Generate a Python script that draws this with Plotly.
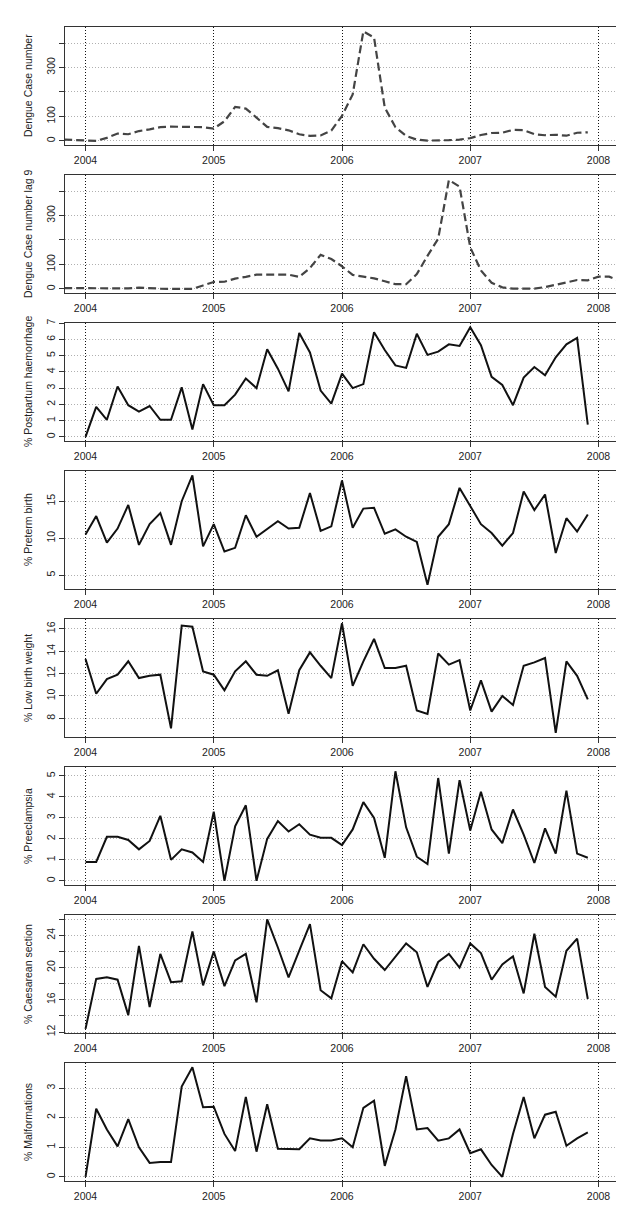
import plotly.graph_objects as go

# ---------------- data (monthly, month index 0 = Jan 2004) ----------------
dengue_start = -2          # first month index of the dengue series
dengue_cases = [5, 3, 1, 0, 12, 30, 27, 40, 47, 56, 58, 58, 58, 56,
                50, 80, 139, 132, 95, 57, 52, 43, 27, 20, 22, 42,
                102, 190, 448, 422, 136, 56, 20, 5, 1, 1, 3, 5,
                11, 24, 32, 33, 45, 44, 27, 23, 25, 21, 33, 35]

dengue_lag_start = -2
dengue_lag9 = [3, 3, 2, 1, 2, 2, 2, 5, 2, 1, 0, 0, 0, 14,
               28, 29, 42, 49, 58, 58, 58, 58, 49, 85, 139, 122,
               92, 57, 50, 43, 31, 19, 19, 60, 135, 205, 445, 418,
               170, 75, 25, 6, 1, 0, 1, 7, 17, 28, 36, 35, 50, 50, 33]

pph = [0.0, 1.85, 1.05, 3.1, 1.95, 1.55, 1.9, 1.05, 1.05, 3.05, 0.45, 3.25,
       1.95, 1.95, 2.6, 3.6, 3.0, 5.4, 4.2, 2.8, 6.4, 5.2, 2.85, 2.05,
       3.9, 3.0, 3.25, 6.45, 5.35, 4.4, 4.25, 6.35, 5.05, 5.25, 5.7, 5.6,
       6.75, 5.65, 3.7, 3.2, 1.95, 3.65, 4.3, 3.8, 4.9, 5.7, 6.1, 0.75]

preterm = [10.5, 13.0, 9.4, 11.3, 14.5, 9.1, 11.9, 13.4, 9.1, 15.0, 18.5, 8.9,
           11.9, 8.2, 8.7, 13.1, 10.2, 11.3, 12.3, 11.3, 11.4, 16.1, 11.0, 11.6,
           17.8, 11.4, 14.0, 14.1, 10.6, 11.2, 10.2, 9.5, 3.7, 10.2, 11.9, 16.8,
           14.4, 11.9, 10.7, 9.0, 10.7, 16.3, 13.8, 15.9, 8.0, 12.7, 10.9, 13.2]

lbw = [13.3, 10.2, 11.5, 11.9, 13.1, 11.6, 11.8, 11.9, 7.1, 16.3, 16.2, 12.2,
       11.9, 10.5, 12.2, 13.1, 11.9, 11.8, 12.3, 8.4, 12.3, 13.9, 12.7, 11.6,
       16.5, 10.9, 13.1, 15.1, 12.5, 12.5, 12.7, 8.7, 8.4, 13.8, 12.8, 13.2,
       8.7, 11.4, 8.6, 10.0, 9.2, 12.7, 13.0, 13.4, 6.7, 13.1, 11.8, 9.7]

preeclampsia = [0.9, 0.9, 2.1, 2.1, 1.95, 1.5, 1.9, 3.1, 1.0, 1.5, 1.35, 0.9,
                3.3, 0.0, 2.6, 3.6, 0.0, 2.0, 2.85, 2.35, 2.7, 2.2, 2.05, 2.05,
                1.7, 2.45, 3.75, 3.0, 1.1, 5.22, 2.55, 1.15, 0.8, 4.9, 1.3, 4.8,
                2.4, 4.25, 2.45, 1.8, 3.4, 2.2, 0.85, 2.5, 1.3, 4.3, 1.3, 1.1]

caesarean = [12.4, 18.6, 18.8, 18.5, 14.1, 22.7, 15.1, 21.7, 18.2, 18.3, 24.5, 17.8,
             22.0, 17.7, 20.9, 21.7, 15.7, 26.0, 22.5, 18.8, 22.1, 25.4, 17.2, 16.2,
             20.8, 19.4, 22.9, 21.1, 19.7, 21.3, 23.0, 21.9, 17.6, 20.7, 21.7, 20.0,
             23.0, 21.8, 18.5, 20.4, 21.4, 16.8, 24.2, 17.6, 16.4, 22.1, 23.6, 16.1]

malformations = [0.0, 2.3, 1.6, 1.03, 1.95, 1.0, 0.47, 0.5, 0.5, 3.05, 3.7, 2.35,
                 2.37, 1.45, 0.87, 2.7, 0.85, 2.45, 0.95, 0.93, 0.93, 1.3, 1.23, 1.23,
                 1.3, 1.0, 2.33, 2.57, 0.37, 1.6, 3.4, 1.6, 1.65, 1.22, 1.3, 1.6,
                 0.8, 0.93, 0.4, 0.0, 1.45, 2.7, 1.3, 2.1, 2.2, 1.05, 1.3, 1.5]

x_ticks = [2004, 2005, 2006, 2007, 2008]
x_tick_labels = ["2004", "2005", "2006", "2007", "2008"]

titles = ["Dengue Case number", "Dengue Case number lag 9",
          "% Postpartum haemorrhage", "% Preterm birth", "% Low birth weight",
          "% Preeclampsia", "% Caesarean section", "% Malformations"]

y_grid = [
    [0, 100, 200, 300, 400],
    [0, 100, 200, 300, 400],
    [0, 1, 2, 3, 4, 5, 6, 7],
    [5, 10, 15],
    [8, 10, 12, 14, 16],
    [0, 1, 2, 3, 4, 5],
    [12, 14, 16, 18, 20, 22, 24, 26],
    [0, 1, 2, 3],
]
y_labels = [
    ["0", "100", "", "300", ""],
    ["0", "100", "", "300", ""],
    ["0", "1", "2", "3", "4", "5", "6", "7"],
    ["5", "10", "15"],
    ["8", "10", "12", "14", "16"],
    ["0", "1", "2", "3", "4", "5"],
    ["12", "", "16", "", "20", "", "24", ""],
    ["0", "1", "2", "3"],
]


def months_to_x(start, n):
    return [2004 + (start + i) / 12 for i in range(n)]


series = [
    (months_to_x(dengue_start, len(dengue_cases)), dengue_cases, True),
    (months_to_x(dengue_lag_start, len(dengue_lag9)), dengue_lag9, True),
    (months_to_x(0, len(pph)), pph, False),
    (months_to_x(0, len(preterm)), preterm, False),
    (months_to_x(0, len(lbw)), lbw, False),
    (months_to_x(0, len(preeclampsia)), preeclampsia, False),
    (months_to_x(0, len(caesarean)), caesarean, False),
    (months_to_x(0, len(malformations)), malformations, False),
]

# ---------------- layout ----------------
W, H = 624, 1212
left_px, right_px = 57, 611
first_top, pitch, box_h = 15, 148.86, 119
x_range = [2003.84, 2008.16]
font_family = "Liberation Sans, Arial, Helvetica, sans-serif"

fig = go.Figure()
layout = dict(
    width=W, height=H, margin=dict(l=0, r=0, t=0, b=0),
    paper_bgcolor="white", plot_bgcolor="white", showlegend=False,
    font=dict(family=font_family, size=10, color="#222222"),
)
annotations = []

dmax = max(max(dengue_cases), max(dengue_lag9))

for i, (xs, ys, dashed) in enumerate(series):
    k = "" if i == 0 else str(i + 1)
    top = first_top + i * pitch
    bot = top + box_h
    ydom = [1 - bot / H, 1 - top / H]
    if i < 2:
        lo, hi = 0, dmax
    else:
        lo, hi = min(ys), max(ys)
    pad = 0.04 * (hi - lo)
    fig.add_trace(go.Scatter(
        x=xs, y=ys, mode="lines", xaxis="x" + k, yaxis="y" + k,
        line=dict(color="#444444" if dashed else "#111111", width=2.2 if dashed else 2,
                  dash="8px,4px" if dashed else "solid"),
        hoverinfo="skip", cliponaxis=True,
    ))
    layout["xaxis" + k] = dict(
        domain=[left_px / W, right_px / W], anchor="y" + k, range=x_range,
        tickmode="array", tickvals=x_ticks, ticktext=x_tick_labels,
        ticks="outside", ticklen=5, tickwidth=1, tickcolor="#333333",
        showline=True, linecolor="#333333", linewidth=1.3, mirror=True,
        showgrid=True, gridcolor="#111111", griddash="1px,2px", gridwidth=1,
        zeroline=False, tickfont=dict(size=10.5, color="#222222"),
    )
    layout["yaxis" + k] = dict(
        domain=ydom, anchor="x" + k, range=[lo - pad, hi + pad],
        tickmode="array", tickvals=y_grid[i], ticktext=y_labels[i],
        ticks="outside", ticklen=5, tickwidth=1, tickcolor="#333333",
        tickangle=-90,
        showline=True, linecolor="#333333", linewidth=1.3, mirror=True,
        showgrid=True, gridcolor="#b0b0b0", griddash="1px,2px", gridwidth=1,
        zeroline=False, tickfont=dict(size=10.5, color="#222222"),
    )
    annotations.append(dict(
        text=titles[i], xref="paper", yref="paper",
        x=20 / W, y=(ydom[0] + ydom[1]) / 2, xanchor="center", yanchor="middle",
        textangle=-90, showarrow=False, font=dict(size=10.5, color="#222222"),
    ))

layout["annotations"] = annotations
fig.update_layout(**layout)
fig.write_html("out.html")
